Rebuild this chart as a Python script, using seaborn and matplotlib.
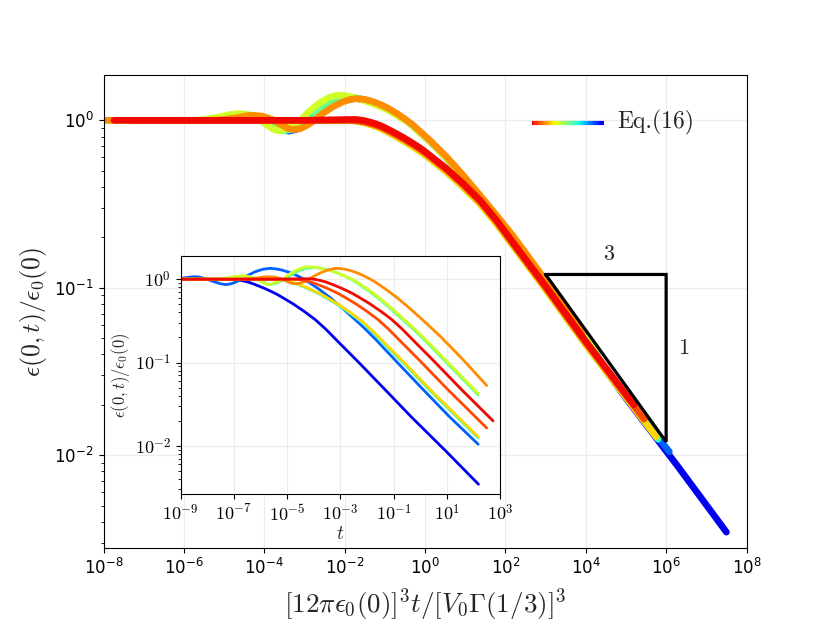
import numpy as np
import matplotlib
matplotlib.use("Agg")
import matplotlib.pyplot as plt
import seaborn as sns
from matplotlib.collections import LineCollection
from matplotlib.ticker import NullLocator, FuncFormatter

# values, stored as log10 of the rescaled time (main x axis)
# and log10 of eps(0,t)/eps0(0)
lx_darkblue = [-4.89, -3.0, -2.3, -1.9, -1.70, -1.5, -1.30, -1.12, -0.92, -0.71, -0.5, -0.29, -0.08, 0.12, 0.54, 0.95, 1.37, 1.78, 2.19, 3.0, 4.0, 5.0, 6.3, 7.5]
ly_darkblue = [0, 0, 0.0, 0.0, -0.003, -0.01, -0.023, -0.038, -0.061, -0.088, -0.116, -0.147, -0.18, -0.217, -0.297, -0.386, -0.486, -0.605, -0.738, -0.998, -1.328, -1.66, -2.07, -2.46]

lx_blue = [-6.30, -5.4, -5.1, -4.85, -4.6, -4.4, -4.15, -3.85, -3.6, -3.4, -3.2, -3.0, -2.8, -2.55, -2.3, -2.0, -1.74, -1.5, -1.3, -1.0, -0.71, -0.5, -0.29, 0.12, 0.54, 0.95, 1.37, 1.78, 2.19, 3.0, 4.0, 5.0, 6.08]
ly_blue = [0, 0, 0.01, 0.022, 0.03, 0.026, 0.005, -0.03, -0.055, -0.065, -0.055, -0.03, 0.005, 0.05, 0.09, 0.12, 0.13, 0.123, 0.11, 0.08, 0.04, 0.005, -0.035, -0.125, -0.228, -0.34, -0.46, -0.58, -0.71, -0.985, -1.32, -1.65, -1.98]

lx_cyan_lo = [-6.58, -3.0, -2.3, -1.9, -1.70, -1.5, -1.30, -1.12, -0.92, -0.71, -0.5, -0.29, -0.08, 0.12, 0.54, 0.95, 1.37, 1.78, 2.19, 3.0, 4.0, 5.80]
ly_cyan_lo = [0, 0, 0.0, 0.0, -0.005, -0.015, -0.03, -0.047, -0.071, -0.099, -0.128, -0.159, -0.193, -0.23, -0.31, -0.4, -0.5, -0.618, -0.75, -1.01, -1.34, -1.905]

lx_cyan_up = [-8.08, -5.5, -5.2, -4.95, -4.7, -4.45, -4.25, -4.0, -3.8, -3.65, -3.5, -3.35, -3.15, -2.95, -2.7, -2.45, -2.2, -1.87, -1.6, -1.3, -1.0, -0.7, -0.4, -0.1, 0.12, 0.54, 0.95, 1.37, 1.78, 2.19, 3.0, 4.30]
ly_cyan_up = [0, 0, 0.008, 0.02, 0.032, 0.035, 0.028, 0.005, -0.03, -0.055, -0.063, -0.055, -0.03, 0.005, 0.055, 0.1, 0.128, 0.139, 0.13, 0.108, 0.075, 0.035, -0.015, -0.08, -0.125, -0.228, -0.338, -0.458, -0.577, -0.70, -0.965, -1.39]

lx_green = [-8.14, -5.7, -5.4, -5.1, -4.85, -4.6, -4.4, -4.15, -3.95, -3.8, -3.69, -3.55, -3.35, -3.1, -2.9, -2.65, -2.4, -2.2, -2.0, -1.8, -1.55, -1.3, -1.0, -0.7, -0.4, -0.1, 0.12, 0.54, 0.95, 1.37, 1.78, 2.19, 3.0, 4.24]
ly_green = [0, 0, 0.008, 0.022, 0.035, 0.04, 0.033, 0.01, -0.025, -0.05, -0.062, -0.06, -0.035, 0.0, 0.05, 0.1, 0.135, 0.15, 0.148, 0.138, 0.12, 0.1, 0.07, 0.03, -0.015, -0.08, -0.125, -0.228, -0.338, -0.458, -0.577, -0.70, -0.965, -1.37]

lx_yellow = [-6.63, -3.0, -2.3, -1.9, -1.70, -1.5, -1.30, -1.12, -0.92, -0.71, -0.5, -0.29, -0.08, 0.12, 0.54, 0.95, 1.37, 1.78, 2.19, 3.0, 4.0, 5.75]
ly_yellow = [0, 0, 0.0, 0.0, -0.005, -0.015, -0.03, -0.047, -0.071, -0.099, -0.128, -0.159, -0.193, -0.23, -0.31, -0.4, -0.5, -0.618, -0.75, -1.01, -1.34, -1.89]

lx_orange = [-8.62, -5.3, -5.0, -4.7, -4.45, -4.27, -4.05, -3.8, -3.55, -3.4, -3.28, -3.1, -2.9, -2.75, -2.55, -2.3, -2.05, -1.85, -1.70, -1.5, -1.3, -1.12, -0.9, -0.71, -0.5, -0.29, 0.12, 0.54, 0.95, 1.37, 1.78, 2.19, 3.0, 3.92]
ly_orange = [0, 0, 0.005, 0.015, 0.027, 0.03, 0.025, 0.005, -0.03, -0.05, -0.055, -0.05, -0.025, 0.0, 0.04, 0.08, 0.11, 0.125, 0.13, 0.125, 0.112, 0.095, 0.07, 0.042, 0.008, -0.03, -0.119, -0.219, -0.328, -0.448, -0.567, -0.69, -0.955, -1.275]

lx_orangered = [-7.25, -3.0, -2.3, -1.9, -1.70, -1.5, -1.30, -1.12, -0.92, -0.71, -0.5, -0.29, -0.08, 0.12, 0.54, 0.95, 1.37, 1.78, 2.19, 3.0, 4.0, 5.45]
ly_orangered = [0, 0, 0.0, 0.0, -0.003, -0.01, -0.023, -0.038, -0.061, -0.088, -0.116, -0.147, -0.18, -0.217, -0.297, -0.386, -0.486, -0.605, -0.738, -0.998, -1.328, -1.785]

lx_red = [-7.74, -3.0, -2.3, -1.9, -1.70, -1.5, -1.30, -1.12, -0.92, -0.71, -0.5, -0.29, -0.08, 0.12, 0.54, 0.95, 1.37, 1.78, 2.19, 3.0, 4.0, 5.2]
ly_red = [0, 0, 0.003, 0.005, 0.005, -0.002, -0.015, -0.03, -0.053, -0.08, -0.108, -0.139, -0.172, -0.209, -0.289, -0.378, -0.478, -0.597, -0.73, -0.99, -1.32, -1.70]

# log10 of the rescaling factor [12 pi eps0(0)]^3 / [V0 Gamma(1/3)]^3 for each run
log_scale = [5.31, 3.90, 3.62, 2.12, 2.06, 3.57, 1.42, 2.95, 2.46]
# position of each run in the jet colormap
jet_pos = [0.10, 0.22, 0.42, 0.47, 0.60, 0.68, 0.76, 0.83, 0.90]

curves = [(lx_darkblue, ly_darkblue), (lx_blue, ly_blue), (lx_cyan_lo, ly_cyan_lo),
          (lx_cyan_up, ly_cyan_up), (lx_green, ly_green), (lx_yellow, ly_yellow),
          (lx_orange, ly_orange), (lx_orangered, ly_orangered), (lx_red, ly_red)]

# slope triangle
tri_x = [1e3, 1e6, 1e6, 1e3]
tri_y = [0.12, 0.12, 0.012, 0.12]

sns.set_style("ticks")
plt.rcParams["axes.edgecolor"] = "black"
plt.rcParams["xtick.color"] = "black"
plt.rcParams["ytick.color"] = "black"
plt.rcParams["mathtext.fontset"] = "cm"

fig = plt.figure(figsize=(8.3, 6.32), dpi=100)
ax = fig.add_axes([0.1247, 0.133, 0.7747, 0.748])
ax.set_xscale("log")
ax.set_yscale("log")

cols = plt.cm.jet(jet_pos)
for (lx, ly), c in zip(curves, cols):
    sns.lineplot(x=np.power(10.0, lx), y=np.power(10.0, ly), ax=ax, color=c,
                 lw=4.8, sort=False, estimator=None)

ax.plot(tri_x, tri_y, color="black", lw=2.3, solid_joinstyle="miter")
ax.text(10**4.57, 0.158, "$3$", fontsize=16, ha="center", va="center")
ax.text(10**6.44, 0.0436, "$1$", fontsize=16, ha="center", va="center")

ax.set_xlim(1e-8, 1e8)
ax.set_ylim(2.79e-3, 1.86)
ax.set_xticks([10.0**k for k in range(-8, 9, 2)])
ax.xaxis.set_minor_locator(NullLocator())
ax.grid(True, which="major", color="#ececec", lw=0.8)
ax.tick_params(labelsize=12)
ax.set_xlabel(r"$[12\pi\epsilon_0(0)]^3t/[V_0\Gamma(1/3)]^3$", fontsize=19.5, labelpad=6)
ax.set_ylabel(r"$\epsilon(0,t)/\epsilon_0(0)$", fontsize=18.5, labelpad=4)

# gradient legend entry
gx = np.linspace(0.666, 0.778, 60)
segs = [[(gx[i], 0.899), (gx[i + 1], 0.899)] for i in range(len(gx) - 1)]
lc = LineCollection(segs, colors=plt.cm.jet(np.linspace(0.9, 0.1, len(segs))),
                    linewidths=3, transform=ax.transAxes)
ax.add_collection(lc)
ax.text(0.799, 0.901, "Eq.(16)", transform=ax.transAxes, fontsize=17,
        va="center", ha="left", family="cmr10")

# inset: the same runs against the raw time t
axin = fig.add_axes([0.2177, 0.2184, 0.3847, 0.3766])
axin.set_xscale("log")
axin.set_yscale("log")
for (lx, ly), s, c in zip(curves, log_scale, cols):
    t = np.power(10.0, np.array(lx) - s)
    sns.lineplot(x=t, y=np.power(10.0, ly), ax=axin, color=c, lw=2.0,
                 sort=False, estimator=None)
axin.set_xlim(1e-9, 1e3)
axin.set_ylim(2.65e-3, 1.9)
axin.set_xticks([10.0**k for k in range(-9, 4, 2)])
axin.xaxis.set_minor_locator(NullLocator())
sci = FuncFormatter(lambda v, pos: "$10^{%d}$" % int(round(np.log10(v))))
axin.xaxis.set_major_formatter(sci)
axin.yaxis.set_major_formatter(sci)
axin.grid(True, which="major", color="#ececec", lw=0.8)
axin.tick_params(labelsize=13)
axin.set_xlabel("$t$", fontsize=14, labelpad=0)
axin.set_ylabel(r"$\epsilon(0,t)/\epsilon_0(0)$", fontsize=12, labelpad=2)

fig.savefig("out.png", dpi=100)
